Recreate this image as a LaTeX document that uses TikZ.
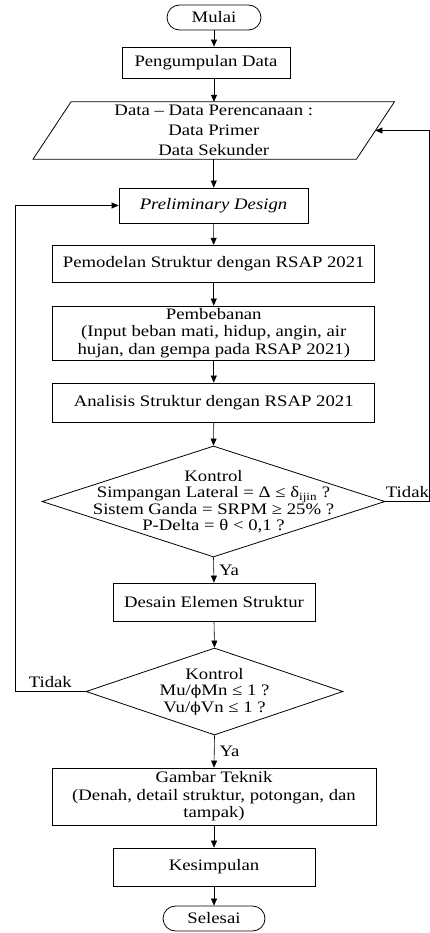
\documentclass[tikz,border=0pt]{standalone}
\usepackage{fontspec}
\setmainfont{Liberation Serif}[FakeStretch=1.17]
\newfontfamily\phifont{DejaVu Serif}[FakeStretch=1.1]
\newcommand{\fiphi}{{\phifont\fontsize{14pt}{16pt}\selectfont ϕ}}
\usetikzlibrary{arrows.meta,shapes.geometric}

\tikzset{
  txt/.style={font=\fontsize{16pt}{17.5pt}\selectfont, align=center, inner sep=0pt},
  proc/.style={txt, draw, line width=0.8pt, rectangle},
  term/.style={proc, rounded corners=12.5pt},
  decision/.style={txt, draw, line width=0.8pt, diamond},
  flow/.style={line width=0.6pt, -{Triangle[length=7pt,width=6pt]}}
}

\begin{document}
\begin{tikzpicture}[x=1pt, y=-1pt]
	%%%%% START %%%%%
	\useasboundingbox (0,0) rectangle (430,933);
	
	\node[term, minimum width=94pt, minimum height=25pt] (mulai) at (214, 17.5) {Mulai};
	\node[proc, minimum width=168pt, minimum height=31pt] (peng) at (206, 62.5) {Pengumpulan Data};
	
	\node[txt, font=\fontsize{16pt}{20pt}\selectfont, minimum width=323pt, minimum height=57pt] (data) at (213.75, 130.5) {Data -- Data Perencanaan :\\ Data Primer\\ Data Sekunder};
	\draw[line width=0.8pt] ([xshift=19pt]data.north west) -- ([xshift=19pt]data.north east) -- ([xshift=-19pt]data.south east) -- ([xshift=-19pt]data.south west) -- cycle;
	
	\node[proc, minimum width=189pt, minimum height=35pt] (prelim) at (213.5, 205.5) {\textit{Preliminary Design}};
	\node[proc, minimum width=322pt, minimum height=37pt] (model) at (213.75, 263.75) {Pemodelan Struktur dengan RSAP 2021};
	\node[proc, minimum width=322pt, minimum height=54pt] (beban) at (213.75, 333) {Pembebanan\\ (Input beban mati, hidup, angin, air\\ hujan, dan gempa pada RSAP 2021)};
	\node[proc, minimum width=322pt, minimum height=39pt] (analisis) at (213.75, 402.5) {Analisis Struktur dengan RSAP 2021};
	
	\node[decision, minimum width=343pt, minimum height=111pt,
		label={[txt, font=\fontsize{16pt}{16.5pt}\selectfont]center:{Kontrol\\ Simpangan Lateral = Δ ≤ δ\textsubscript{ijin} ?\\ Sistem Ganda = SRPM ≥ 25\% ?\\ P-Delta = θ < 0,1 ?}}] (kontrol1) at (213.5, 501.5) {};
	
	\node[proc, minimum width=202pt, minimum height=38pt] (desain) at (214, 602) {Desain Elemen Struktur};
	
	\node[decision, minimum width=257pt, minimum height=87pt,
		label={[txt, font=\fontsize{16pt}{16.5pt}\selectfont]center:{Kontrol\\ Mu/\fiphi Mn ≤ 1 ?\\ Vu/\fiphi Vn ≤ 1 ?}}] (kontrol2) at (214.5, 691.5) {};
	
	\node[proc, minimum width=324pt, minimum height=57pt] (gambar) at (214, 796.5) {Gambar Teknik\\ (Denah, detail struktur, potongan, dan\\ tampak)};
	\node[proc, minimum width=202pt, minimum height=38pt] (simpul) at (214, 867) {Kesimpulan};
	\node[term, minimum width=102pt, minimum height=25pt] (selesai) at (214, 918.5) {Selesai};
	
	\coordinate (kanan) at (429.5, 131);
	\coordinate (kiri) at (15, 205);
	
	% alur utama
	\draw[flow] (mulai.south) -- (mulai.south |- peng.north);
	\draw[flow] (mulai.south |- peng.south) -- (mulai.south |- data.north);
	\draw[flow] (data.south) -- (data.south |- prelim.north);
	\draw[flow] (prelim) -- (model);
	\draw[flow] (model) -- (beban);
	\draw[flow] (beban) -- (analisis);
	\draw[flow] (analisis.south) -- (kontrol1.north);
	\draw[flow] (kontrol1.south) -- node[txt, right=5pt] (ya1) {Ya} (desain.north);
	\draw[flow] (desain.south) -- (kontrol2.north);
	\draw[flow] (kontrol2.south) -- node[txt, right=5pt] (ya2) {Ya} (gambar.north);
	\draw[flow] (gambar) -- (simpul);
	\draw[flow] (simpul) -- (selesai);
	
	% umpan balik
	\draw[flow] (kontrol1.east) -- node[txt, above=4pt] (tidak1) {Tidak} (kontrol1.east -| kanan) |- (data.east);
	\draw[flow] (kontrol2.west) -- node[txt, above=4pt] (tidak2) {Tidak} (kontrol2.west -| kiri) |- (prelim.west);
	
	%%%%% END %%%%%
\end{tikzpicture}
\end{document}
